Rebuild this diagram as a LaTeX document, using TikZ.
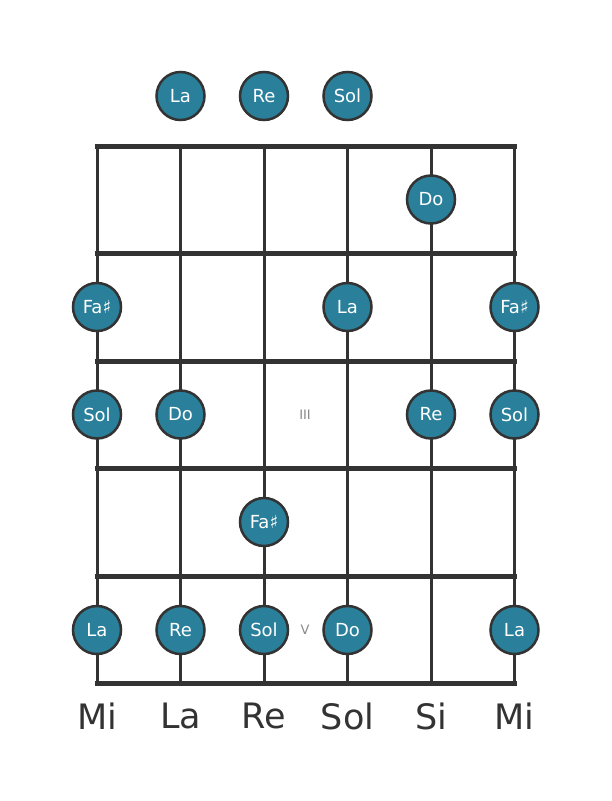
\documentclass[tikz,border=0pt]{standalone}
\usepackage{fontspec}
\setmainfont{DejaVu Sans}
\definecolor{notefill}{HTML}{2A809B}
\definecolor{ink}{HTML}{333333}
\definecolor{roman}{HTML}{888888}
\tikzset{
  note/.style={circle,draw=ink,line width=2.5pt,fill=notefill,minimum size=48pt,inner sep=0pt,text=white,font=\fontsize{18}{18}\selectfont},
  fretline/.style={draw=ink,line width=5pt},
  stringline/.style={draw=ink,line width=3pt},
  strname/.style={text=ink,font=\fontsize{35}{35}\selectfont},
  fretnum/.style={text=roman,font=\fontsize{13}{13}\selectfont}
}
\begin{document}
\begin{tikzpicture}[x=1pt,y=-1pt]
\useasboundingbox (0,0) rectangle (611,801);
% coordinates for strings/frets
\foreach \i/\x in {1/97,2/180.5,3/264,4/347.5,5/431,6/514.5}{
  \coordinate (t\i) at (\x,146);
  \coordinate (b\i) at (\x,683.5);
}
\foreach \i in {1,...,6}{ \draw[stringline] (t\i) -- (b\i); }
\foreach \j/\y in {0/146,1/253.5,2/361,3/468.5,4/576,5/683.5}{
  \coordinate (fl\j) at (94.5,\y);
  \coordinate (fr\j) at (517,\y);
  \draw[fretline] (fl\j) -- (fr\j);
}
% fret markers
\node[fretnum] (m3) at (305,415) {III};
\node[fretnum] (m5) at (305,630) {V};
% open strings
\node[note] (o2) at (180.5,96) {La};
\node[note] (o3) at (264,96) {Re};
\node[note] (o4) at (347.5,96) {Sol};
% fret 1
\node[note] (n15) at (431,199.5) {Do};
% fret 2
\node[note] (n21) at (97,307) {Fa♯};
\node[note] (n24) at (347.5,307) {La};
\node[note] (n26) at (514.5,307) {Fa♯};
% fret 3
\node[note] (n31) at (97,414.5) {Sol};
\node[note] (n32) at (180.5,414.5) {Do};
\node[note] (n35) at (431,414.5) {Re};
\node[note] (n36) at (514.5,414.5) {Sol};
% fret 4
\node[note] (n43) at (264,522) {Fa♯};
% fret 5
\node[note] (n51) at (97,630) {La};
\node[note] (n52) at (180.5,630) {Re};
\node[note] (n53) at (264,630) {Sol};
\node[note] (n54) at (347.5,630) {Do};
\node[note] (n56) at (514.5,630) {La};
% string names
\node[strname] (s1) at (97,716) {Mi};
\node[strname] (s2) at (180.5,716) {La};
\node[strname] (s3) at (264,716) {Re};
\node[strname] (s4) at (347.5,716) {Sol};
\node[strname] (s5) at (431,716) {Si};
\node[strname] (s6) at (514.5,716) {Mi};
\end{tikzpicture}
\end{document}
